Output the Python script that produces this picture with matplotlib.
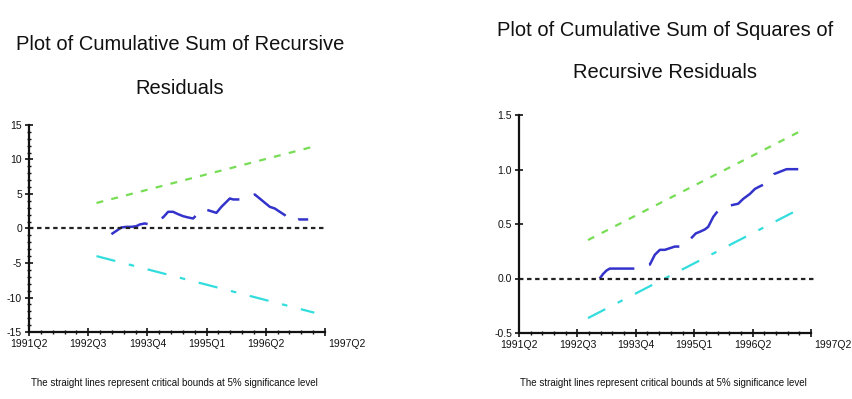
import matplotlib
matplotlib.use("Agg")
import matplotlib.pyplot as plt
from matplotlib.transforms import ScaledTranslation

plt.rcParams['lines.scale_dashes'] = False
plt.rcParams['font.family'] = ['Liberation Sans', 'DejaVu Sans']

# ---------------- data ----------------
tick_pos = [0, 5, 10, 15, 20, 25]
tick_labels = ["1991Q2", "1992Q3", "1993Q4", "1995Q1", "1996Q2", "1997Q2"]

# CUSUM (left)
cusum_x = [6.96, 7.38, 7.80, 8.23, 8.65, 9.07, 9.35, 9.77, 10.06,
           11.32, 11.75, 12.17, 12.59, 13.01, 13.44, 13.86, 14.28, 14.65,
           15.83, 16.25, 16.68, 16.96, 17.24, 18.08, 18.51, 19.07,
           20.34, 20.76, 21.18, 21.61, 22.03, 22.31, 22.73, 23.58]
cusum_y = [-0.82, -0.34, 0.15, 0.24, 0.24, 0.34, 0.58, 0.73, 0.63,
           1.60, 2.42, 2.42, 2.08, 1.79, 1.60, 1.45, 2.18, 2.90,
           2.27, 3.14, 3.87, 4.35, 4.21, 4.21, 4.50, 4.93,
           3.14, 2.90, 2.42, 1.94, 1.21, 0.97, 1.31, 1.31]
cusum_bound_x = [5.7, 24.1]
cusum_upper = [3.7, 11.9]
cusum_lower = [-4.0, -12.2]

# CUSUM of squares (right)
cusq_x = [6.91, 7.20, 7.49, 7.77, 8.34, 9.20, 10.06,
          11.20, 11.63, 12.06, 12.49, 12.91, 13.34, 14.06,
          15.14, 15.49, 15.91, 16.20, 16.63, 17.06, 17.49,
          18.77, 19.20, 19.77, 20.20, 20.63, 21.06, 21.49, 21.83,
          22.91, 23.91]
cusq_y = [0.0, 0.042, 0.073, 0.091, 0.091, 0.091, 0.091,
          0.127, 0.218, 0.263, 0.263, 0.278, 0.293, 0.293,
          0.414, 0.429, 0.450, 0.474, 0.565, 0.625, 0.656,
          0.686, 0.731, 0.776, 0.822, 0.846, 0.867, 0.912, 0.958,
          1.003, 1.003]
cusq_bound_x = [5.91, 24.06]
cusq_upper = [0.353, 1.35]
cusq_lower = [-0.363, 0.64]

left_yticks = [-15, -10, -5, 0, 5, 10, 15]
right_yticks = [-0.5, 0.0, 0.5, 1.0, 1.5]
right_yticklabels = ["-0.5", "0.0", "0.5", "1.0", "1.5"]

title_left = ["Plot of Cumulative Sum of Recursive", "Residuals"]
title_right = ["Plot of Cumulative Sum of Squares of", "Recursive Residuals"]
note = "The straight lines represent critical bounds at 5% significance level"

GREEN = '#77dd55'
CYAN = '#33dddd'
BLUE = '#3333cc'
BLACK = '#222222'

fig = plt.figure(figsize=(8.53, 3.99), dpi=100)
fig.patch.set_facecolor('white')

def style_axes(ax, ylim, yticks, yminor):
    ax.set_xlim(0, 25)
    ax.set_ylim(*ylim)
    for s in ['top', 'right']:
        ax.spines[s].set_visible(False)
    for s in ['left', 'bottom']:
        ax.spines[s].set_linewidth(1.6)
        ax.spines[s].set_color('#111111')
    ax.set_xticks(tick_pos)
    ax.set_xticklabels(tick_labels)
    ax.set_xticks(range(0, 26), minor=True)
    ax.set_yticks(yticks)
    ax.set_yticks(yminor, minor=True)
    ax.tick_params(axis='both', which='major', direction='inout', length=6, width=1.2,
                   labelsize=7.5, pad=2, colors='#111111')
    ax.tick_params(axis='both', which='minor', direction='inout', length=3, width=1.0,
                   colors='#111111')
    lab = ax.get_xticklabels()[-1]
    lab.set_transform(lab.get_transform() + ScaledTranslation(22 / 100, 0, fig.dpi_scale_trans))

# Left
axl = fig.add_axes([29 / 853, 1 - 332 / 399, 296 / 853, 207 / 399])
axl.plot(cusum_bound_x, cusum_upper, color=GREEN, lw=1.6, ls=(0, (5, 6)))
axl.plot(cusum_bound_x, cusum_lower, color=CYAN, lw=1.6, ls=(0, (14, 10, 4, 10)))
axl.plot(cusum_x, cusum_y, color=BLUE, lw=1.8, ls=(0, (28, 11)))
axl.plot([0, 25], [0, 0], color=BLACK, lw=1.6, ls=(0, (3.2, 2.6)), clip_on=False)
style_axes(axl, (-15, 15), left_yticks, list(range(-15, 16)))
axl.set_yticklabels([str(v) for v in left_yticks])

# Right
axr = fig.add_axes([519 / 853, 1 - 333 / 399, 292 / 853, 218 / 399])
axr.plot(cusq_bound_x, cusq_upper, color=GREEN, lw=1.6, ls=(0, (5, 6)))
axr.plot(cusq_bound_x, cusq_lower, color=CYAN, lw=1.6, ls=(0, (14, 10, 4, 10)))
axr.plot(cusq_x, cusq_y, color=BLUE, lw=1.8, ls=(0, (28, 11)))
axr.plot([0, 25.3], [0, 0], color=BLACK, lw=1.6, ls=(0, (3.2, 2.6)), clip_on=False)
style_axes(axr, (-0.5, 1.5), right_yticks, [])
axr.set_yticklabels(right_yticklabels)

# Titles
TFS = 14.5
fig.text(180 / 853, 1 - 45 / 399, title_left[0], ha='center', va='center', fontsize=TFS, color='#111111')
fig.text(180 / 853, 1 - 89 / 399, title_left[1], ha='center', va='center', fontsize=TFS, color='#111111')
fig.text(665 / 853, 1 - 31 / 399, title_right[0], ha='center', va='center', fontsize=TFS, color='#111111')
fig.text(665 / 853, 1 - 72 / 399, title_right[1], ha='center', va='center', fontsize=TFS, color='#111111')

# Notes
fig.text(174 / 853, 1 - 383 / 399, note, ha='center', va='center', fontsize=7, color='#111111')
fig.text(663 / 853, 1 - 383 / 399, note, ha='center', va='center', fontsize=7, color='#111111')

fig.savefig("out.png", dpi=100, facecolor='white')
